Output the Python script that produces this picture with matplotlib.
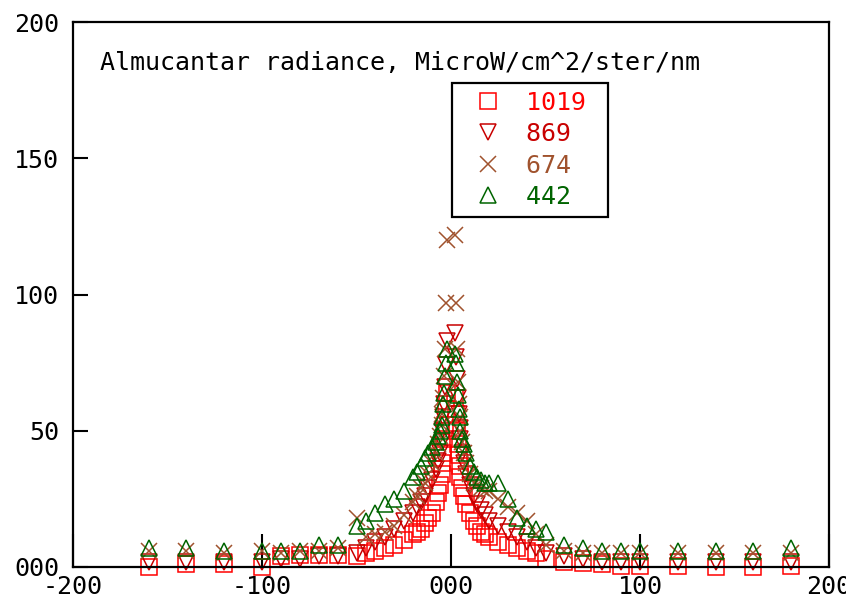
import matplotlib
matplotlib.use("Agg")
import matplotlib.pyplot as plt
from matplotlib.lines import Line2D

# Azimuth angles (degrees) of the almucantar scan
angles = [-160, -140, -120, -100, -90, -80, -70, -60, -50, -45, -40, -35, -30, -25,
          -20, -18, -16, -14, -12, -10, -8, -7, -6, -5, -4.5, -4, -3.5, -3, -2.5, -2,
          2, 2.5, 3, 3.5, 4, 4.5, 5, 6, 7, 8, 10, 12, 14, 16, 18, 20, 25, 30, 35,
          40, 45, 50, 60, 70, 80, 90, 100, 120, 140, 160, 180]

rad_1019 = [0, 1, 1, 0, 4, 4.5, 4.5, 4.5, 4, 5, 6, 7, 8, 10,
            12, 13, 14, 16, 18, 20, 24, 27, 30, 34, 38, 42, 47, 52, 58, 64,
            62, 56, 50, 45, 41, 37, 33, 29, 26, 23, 20, 17, 15, 13, 12, 11, 9, 8, 7,
            6, 5, 3, 2, 1.5, 1, 0.5, 0.5, 0.5, 0, 0, 0.5]
rad_869 = [2, 2, 2, 2, 3, 3, 4, 4, 5, 7, 9, 11, 14, 17,
           20, 22, 24, 26, 29, 32, 36, 39, 42, 46, 50, 55, 60, 66, 74, 83,
           86, 77, 69, 62, 56, 51, 47, 42, 38, 34, 30, 26, 23, 21, 19, 17, 15, 13, 11,
           9, 7, 5, 4, 3, 2, 2, 2, 2, 2, 2, 2]
rad_674 = [6, 6, 5, 6, 5, 6, 6, 7, 18, 11, 12, 13, 15, 19,
           24, 26, 29, 31, 34, 38, 42, 45, 48, 52, 56, 62, 70, 80, 97, 120,
           122, 97, 80, 68, 60, 55, 50, 46, 42, 38, 34, 31, 30, 29, 28, 28, 25, 22, 20,
           17, 12, 8, 6, 5, 5, 5, 5, 5, 5, 5, 5]
rad_442 = [7, 7, 6, 6, 6, 6, 8, 8, 15, 17, 20, 23, 25, 28,
           33, 35, 37, 40, 42, 44, 46, 48, 50, 52, 55, 60, 64, 70, 75, 80,
           78, 75, 68, 63, 58, 55, 50, 47, 45, 42, 37, 35, 33, 32, 31, 31, 31, 25, 18,
           15, 14, 13, 8, 7, 6, 6, 6, 6, 6, 6, 7]

labels = ["1019", "869", "674", "442"]
colors = ["#ff0000", "#c80000", "#a0522d", "#006400"]
markers = ["s", "v", "x", "^"]

xticks = [-200, -100, 0, 100, 200]
xticklabels = ["-200", "-100", "000", "100", "200"]
yticks = [0, 50, 100, 150, 200]
yticklabels = ["000", "50", "100", "150", "200"]

title = "Almucantar radiance, MicroW/cm^2/ster/nm"

font = "DejaVu Sans Mono"
plt.rcParams["font.family"] = [font]

fig = plt.figure(figsize=(8.46, 6.10), dpi=100)
ax = fig.add_axes([73 / 846, 43 / 610, 756 / 846, 545 / 610])

series = [rad_1019, rad_869, rad_674, rad_442]
for vals, lab, col, mk in zip(series, labels, colors, markers):
    if mk == "x":
        ax.plot(angles, vals, linestyle="none", marker=mk, ms=12, mew=1.1,
                color=col, label=lab, clip_on=False)
    else:
        ax.plot(angles, vals, linestyle="none", marker=mk, ms=12, mew=1.1,
                mfc="none", mec=col, label=lab, clip_on=False)

ax.set_xlim(-200, 200)
ax.set_ylim(0, 200)
ax.set_xticks(xticks)
ax.set_xticklabels(xticklabels)
ax.set_yticks(yticks)
ax.set_yticklabels(yticklabels)
ax.tick_params(axis="x", direction="in", length=24, width=1.5, labelsize=18, pad=6)
ax.tick_params(axis="y", direction="in", length=11, width=1.5, labelsize=18, pad=10)
for s in ax.spines.values():
    s.set_linewidth(1.6)

ax.text(0.036, 0.925, title, transform=ax.transAxes, fontsize=18,
        ha="left", va="center")

handles = [Line2D([], [], linestyle="none", marker=m, ms=12, mew=1.1,
                  mfc="none" if m != "x" else c, mec=c, color=c)
           for m, c in zip(markers, colors)]
leg_labels = [lab + " " for lab in labels]
leg = ax.legend(handles, leg_labels, loc="upper left", bbox_to_anchor=(0.5013, 0.888),
                fontsize=18, frameon=True, fancybox=False, framealpha=1,
                edgecolor="black", handlelength=2.3, handletextpad=0.35,
                labelspacing=0.3, borderpad=0.3, borderaxespad=0)
leg.get_frame().set_linewidth(1.6)
for t, c in zip(leg.get_texts(), colors):
    t.set_color(c)

fig.savefig("out.png", dpi=100)
